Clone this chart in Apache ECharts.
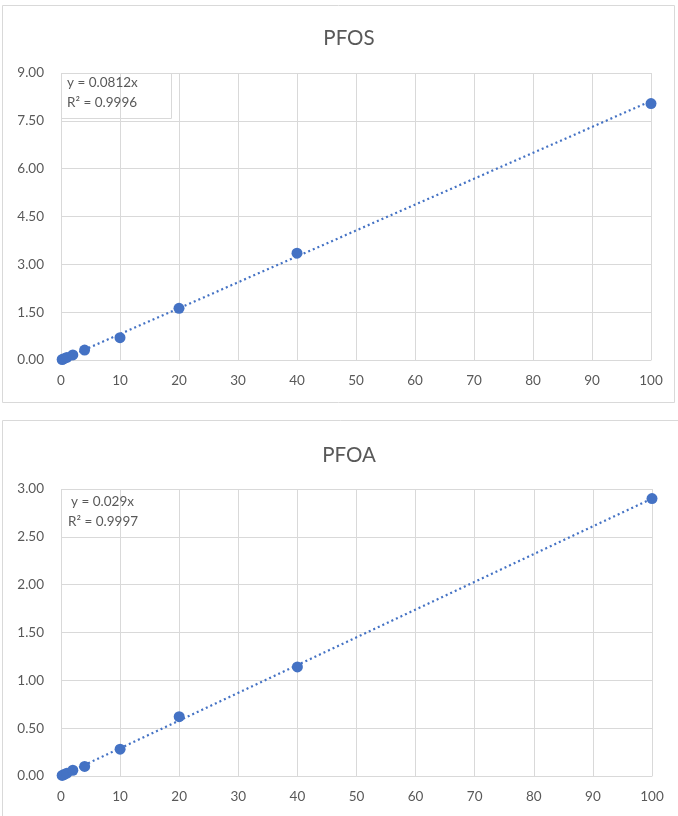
<!DOCTYPE html>
<html><head><meta charset="utf-8">
<script src="https://cdn.jsdelivr.net/npm/echarts@6/dist/echarts.min.js"></script>
<style>html,body{margin:0;padding:0;background:#fff}#c{width:678px;height:816px}</style>
</head><body><div id="c"></div>
<script>
const concentrations = [0.2, 0.5, 1, 2, 4, 10, 20, 40, 100];
const pfosValues = [0.016, 0.04, 0.08, 0.16, 0.31, 0.70, 1.62, 3.35, 8.04];
const pfoaValues = [0.006, 0.015, 0.03, 0.06, 0.10, 0.28, 0.62, 1.14, 2.90];
const pfosSlope = 0.0812, pfosR2 = '0.9996';
const pfoaSlope = 0.029, pfoaR2 = '0.9997';
const titles = ['PFOS', 'PFOA'];
const yMax = [9, 3], yInterval = [1.5, 0.5];
const xMax = 100, xInterval = 10;

const FONT = 'Lato, "Open Sans", sans-serif';
const GRAY = '#595959', GRID = '#d9d9d9', BLUE = '#4472c4';

const chart = echarts.init(document.getElementById('c'), null, {renderer: 'canvas'});
const grids = [
  {left: 61, top: 73, width: 590, height: 287},
  {left: 61, top: 489, width: 591, height: 287}
];
const xAxes = grids.map((g, i) => ({
  type: 'value', gridIndex: i, min: 0, max: xMax, interval: xInterval,
  axisLine: {show: true, lineStyle: {color: GRID}}, axisTick: {show: false},
  splitLine: {show: true, lineStyle: {color: GRID}},
  axisLabel: {color: GRAY, fontFamily: FONT, fontSize: 13.5, margin: 14}
}));
const yAxes = grids.map((g, i) => ({
  type: 'value', gridIndex: i, min: 0, max: yMax[i], interval: yInterval[i],
  axisLine: {show: false}, axisTick: {show: false},
  splitLine: {show: true, lineStyle: {color: GRID}},
  axisLabel: {color: GRAY, fontFamily: FONT, fontSize: 13.5, margin: 17,
    formatter: v => v.toFixed(2)}
}));
function scatter(vals, i) {
  return {type: 'scatter', xAxisIndex: i, yAxisIndex: i, symbolSize: 11,
    itemStyle: {color: BLUE, opacity: 1}, z: 3,
    data: concentrations.map((c, k) => [c, vals[k]])};
}
function trend(slope, i) {
  return {type: 'line', xAxisIndex: i, yAxisIndex: i, symbol: 'none', silent: true,
    lineStyle: {color: BLUE, width: 2.2, type: [2, 3]}, z: 2,
    data: [[0, 0], [xMax, slope * xMax]]};
}
chart.setOption({
  animation: false,
  grid: grids,
  xAxis: xAxes, yAxis: yAxes,
  title: [
    {text: titles[0], left: 344, top: 23, textAlign: 'center',
      textStyle: {color: GRAY, fontFamily: FONT, fontSize: 20.5, fontWeight: 'normal'}},
    {text: titles[1], left: 344, top: 440, textAlign: 'center',
      textStyle: {color: GRAY, fontFamily: FONT, fontSize: 20.5, fontWeight: 'normal'}}
  ],
  series: [trend(pfosSlope, 0), scatter(pfosValues, 0), trend(pfoaSlope, 1), scatter(pfoaValues, 1)],
  graphic: [
    {type: 'rect', shape: {x: 2.5, y: 5.5, width: 672, height: 397}, style: {fill: 'none', stroke: GRID, lineWidth: 1}, silent: true},
    {type: 'rect', shape: {x: 2.5, y: 420.5, width: 680, height: 410}, style: {fill: 'none', stroke: GRID, lineWidth: 1}, silent: true},
    {type: 'rect', shape: {x: 61.5, y: 73.5, width: 110, height: 45}, style: {fill: 'none', stroke: GRID, lineWidth: 1}, silent: true, z: 1},
    {type: 'text', x: 67, y: 83, style: {text: 'y = ' + pfosSlope + 'x', fill: GRAY, font: '13.5px ' + FONT, textVerticalAlign: 'middle'}, z: 10},
    {type: 'text', x: 67, y: 103, style: {text: 'R² = ' + pfosR2, fill: GRAY, font: '13.5px ' + FONT, textVerticalAlign: 'middle'}, z: 10},
    {type: 'text', x: 71, y: 502, style: {text: 'y = ' + pfoaSlope + 'x', fill: GRAY, font: '13.5px ' + FONT, textVerticalAlign: 'middle'}, z: 10},
    {type: 'text', x: 68, y: 522, style: {text: 'R² = ' + pfoaR2, fill: GRAY, font: '13.5px ' + FONT, textVerticalAlign: 'middle'}, z: 10}
  ]
});
</script></body></html>
